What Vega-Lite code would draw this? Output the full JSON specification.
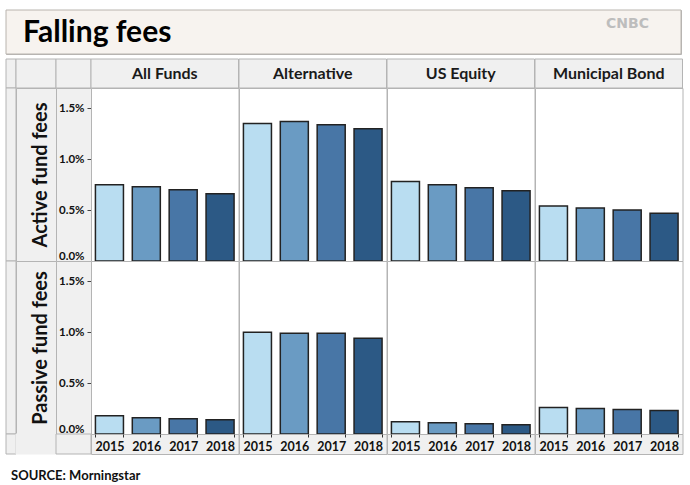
{
  "$schema": "https://vega.github.io/schema/vega-lite/v6.json",
  "padding": {"left": 5, "top": 9, "right": 5, "bottom": 2},
  "background": "white",
  "config": {
    "font": "Lato",
    "view": {"fill": "#f0f0f0", "stroke": "#b4b4b4"},
    "concat": {"spacing": 0},
    "facet": {"spacing": 0},
    "axis": {"labelFont": "Lato", "titleFont": "Lato"}
  },
  "title": {"text": "SOURCE: Morningstar", "orient": "bottom", "anchor": "start", "frame": "bounds", "offset": 25, "baseline": "alphabetic", "dx": 6, "fontSize": 13, "fontWeight": "bold", "color": "#111", "font": "Lato"},
  "datasets": {
    "fees": [
      {"kind": "Active", "cat": "All Funds", "year": "2015", "fee": 0.0075},
      {"kind": "Active", "cat": "All Funds", "year": "2016", "fee": 0.0073},
      {"kind": "Active", "cat": "All Funds", "year": "2017", "fee": 0.0070},
      {"kind": "Active", "cat": "All Funds", "year": "2018", "fee": 0.0066},
      {"kind": "Active", "cat": "Alternative", "year": "2015", "fee": 0.0135},
      {"kind": "Active", "cat": "Alternative", "year": "2016", "fee": 0.0137},
      {"kind": "Active", "cat": "Alternative", "year": "2017", "fee": 0.0134},
      {"kind": "Active", "cat": "Alternative", "year": "2018", "fee": 0.0130},
      {"kind": "Active", "cat": "US Equity", "year": "2015", "fee": 0.0078},
      {"kind": "Active", "cat": "US Equity", "year": "2016", "fee": 0.0075},
      {"kind": "Active", "cat": "US Equity", "year": "2017", "fee": 0.0072},
      {"kind": "Active", "cat": "US Equity", "year": "2018", "fee": 0.0069},
      {"kind": "Active", "cat": "Municipal Bond", "year": "2015", "fee": 0.0054},
      {"kind": "Active", "cat": "Municipal Bond", "year": "2016", "fee": 0.0052},
      {"kind": "Active", "cat": "Municipal Bond", "year": "2017", "fee": 0.0050},
      {"kind": "Active", "cat": "Municipal Bond", "year": "2018", "fee": 0.0047},
      {"kind": "Passive", "cat": "All Funds", "year": "2015", "fee": 0.0018},
      {"kind": "Passive", "cat": "All Funds", "year": "2016", "fee": 0.0016},
      {"kind": "Passive", "cat": "All Funds", "year": "2017", "fee": 0.0015},
      {"kind": "Passive", "cat": "All Funds", "year": "2018", "fee": 0.0014},
      {"kind": "Passive", "cat": "Alternative", "year": "2015", "fee": 0.0100},
      {"kind": "Passive", "cat": "Alternative", "year": "2016", "fee": 0.0099},
      {"kind": "Passive", "cat": "Alternative", "year": "2017", "fee": 0.0099},
      {"kind": "Passive", "cat": "Alternative", "year": "2018", "fee": 0.0094},
      {"kind": "Passive", "cat": "US Equity", "year": "2015", "fee": 0.0012},
      {"kind": "Passive", "cat": "US Equity", "year": "2016", "fee": 0.0011},
      {"kind": "Passive", "cat": "US Equity", "year": "2017", "fee": 0.0010},
      {"kind": "Passive", "cat": "US Equity", "year": "2018", "fee": 0.0009},
      {"kind": "Passive", "cat": "Municipal Bond", "year": "2015", "fee": 0.0026},
      {"kind": "Passive", "cat": "Municipal Bond", "year": "2016", "fee": 0.0025},
      {"kind": "Passive", "cat": "Municipal Bond", "year": "2017", "fee": 0.0024},
      {"kind": "Passive", "cat": "Municipal Bond", "year": "2018", "fee": 0.0023}
    ]
  },
  "spacing": 3,
  "vconcat": [
    {
      "width": 675, "height": 44,
      "data": {"values": [{"title": "Falling fees", "logo": "CNBC"}]},
      "layer": [
        {"mark": {"type": "rect", "fill": "#f7f3ef", "stroke": "#b9b4ae", "strokeWidth": 1}, "encoding": {}},
        {"mark": {"type": "text", "font": "Lato", "fontWeight": "bold", "fontSize": 30, "color": "#000", "align": "left", "baseline": "alphabetic"},
         "encoding": {"text": {"field": "title"}, "x": {"value": 17}, "y": {"value": 32}}},
        {"mark": {"type": "text", "font": "DejaVu Sans", "fontWeight": "bold", "fontSize": 14, "color": "#bdbdbd", "align": "right", "baseline": "middle"},
         "encoding": {"text": {"field": "logo"}, "x": {"value": 643}, "y": {"value": 14}}}
      ]
    },
    {
      "columns": 4,
      "spacing": 0,
      "bounds": "flush",
      "concat": [
        {"width": 10, "height": 29, "data": {"values": [{}]}, "mark": {"type": "rect", "fill": "#f0f0f0", "stroke": "#b4b4b4"}, "encoding": {}},
        {"width": 40, "height": 29, "data": {"values": [{}]}, "mark": {"type": "rect", "fill": "#f0f0f0", "stroke": "#b4b4b4"}, "encoding": {}},
        {"width": 35, "height": 29, "data": {"values": [{}]}, "mark": {"type": "rect", "fill": "#f0f0f0", "stroke": "#b4b4b4"}, "encoding": {}},
        {
          "data": {"name": "fees"},
          "transform": [{"filter": "datum.kind === 'Active' && datum.year === '2015'"}],
          "spacing": 0,
          "bounds": "flush",
          "facet": {"column": {"field": "cat", "type": "nominal", "header": null, "sort": ["All Funds", "Alternative", "US Equity", "Municipal Bond"]}},
          "spec": {
            "width": 147.5, "height": 29,
            "layer": [
              {"mark": {"type": "rect", "fill": "#f0f0f0", "stroke": "#b4b4b4"}, "encoding": {}},
              {"mark": {"type": "text", "fontSize": 16, "fontWeight": "bold", "color": "#1a1a1a", "font": "Lato"},
               "encoding": {"text": {"field": "cat"}}}
            ]
          }
        },
        {"width": 10, "height": 173, "data": {"values": [{}]}, "mark": {"type": "rect", "fill": "#f0f0f0", "stroke": "#b4b4b4"}, "encoding": {}},
        {
          "width": 40, "height": 173,
          "data": {"name": "fees"},
          "transform": [{"filter": "datum.kind === 'Active'"}],
          "mark": {"type": "point", "opacity": 0},
          "encoding": {"y": {"field": "fee", "type": "quantitative", "scale": {"domain": [0, 0.017], "nice": false},
            "axis": {"orient": "left", "offset": -40, "labels": false, "ticks": false, "domain": false, "grid": false, "title": "Active fund fees", "titleFontSize": 20, "titleFontWeight": "bold", "titleColor": "#111", "titlePadding": 10, "titleBaseline": "alphabetic"}}}
        },
        {
          "width": 35, "height": 173,
          "data": {"name": "fees"},
          "transform": [{"filter": "datum.kind === 'Active'"}],
          "mark": {"type": "point", "opacity": 0},
          "encoding": {"y": {"field": "fee", "type": "quantitative", "scale": {"domain": [0, 0.017], "nice": false},
            "axis": {"orient": "left", "offset": -35, "values": [0, 0.005, 0.01, 0.015], "format": ".1%", "labelFontSize": 11.5, "labelFontWeight": "bold", "labelColor": "#111", "tickSize": 4, "tickColor": "#444", "domain": false, "grid": false, "title": null, "labelFlush": true, "labelPadding": 3}}}
        },
        {
          "data": {"name": "fees"},
          "transform": [{"filter": "datum.kind === 'Active'"}],
          "spacing": 0,
          "bounds": "flush",
          "facet": {"column": {"field": "cat", "type": "nominal", "header": null, "sort": ["All Funds", "Alternative", "US Equity", "Municipal Bond"]}},
          "spec": {
            "width": 147.5, "height": 173,
            "view": {"fill": "white", "stroke": "#b4b4b4"},
            "mark": {"type": "bar", "stroke": "#222", "strokeWidth": 1.5},
            "encoding": {
              "x": {"field": "year", "type": "ordinal", "axis": null, "scale": {"type": "band", "paddingInner": 0.24}},
              "y": {"field": "fee", "type": "quantitative", "axis": null, "scale": {"domain": [0, 0.017], "nice": false}},
              "color": {"field": "year", "type": "ordinal", "legend": null, "scale": {"domain": ["2015", "2016", "2017", "2018"], "range": ["#b9ddf1", "#6a9bc3", "#4876a6", "#2c5985"]}}
            }
          }
        },
        {"width": 10, "height": 173, "data": {"values": [{}]}, "mark": {"type": "rect", "fill": "#f0f0f0", "stroke": "#b4b4b4"}, "encoding": {}},
        {
          "width": 40, "height": 173,
          "data": {"name": "fees"},
          "transform": [{"filter": "datum.kind === 'Passive'"}],
          "mark": {"type": "point", "opacity": 0},
          "encoding": {"y": {"field": "fee", "type": "quantitative", "scale": {"domain": [0, 0.017], "nice": false},
            "axis": {"orient": "left", "offset": -40, "labels": false, "ticks": false, "domain": false, "grid": false, "title": "Passive fund fees", "titleFontSize": 20, "titleFontWeight": "bold", "titleColor": "#111", "titlePadding": 10, "titleBaseline": "alphabetic"}}}
        },
        {
          "width": 35, "height": 173,
          "data": {"name": "fees"},
          "transform": [{"filter": "datum.kind === 'Passive'"}],
          "mark": {"type": "point", "opacity": 0},
          "encoding": {"y": {"field": "fee", "type": "quantitative", "scale": {"domain": [0, 0.017], "nice": false},
            "axis": {"orient": "left", "offset": -35, "values": [0, 0.005, 0.01, 0.015], "format": ".1%", "labelFontSize": 11.5, "labelFontWeight": "bold", "labelColor": "#111", "tickSize": 4, "tickColor": "#444", "domain": false, "grid": false, "title": null, "labelFlush": true, "labelPadding": 3}}}
        },
        {
          "data": {"name": "fees"},
          "transform": [{"filter": "datum.kind === 'Passive'"}],
          "spacing": 0,
          "bounds": "flush",
          "facet": {"column": {"field": "cat", "type": "nominal", "header": null, "sort": ["All Funds", "Alternative", "US Equity", "Municipal Bond"]}},
          "spec": {
            "width": 147.5, "height": 173,
            "view": {"fill": "white", "stroke": "#b4b4b4"},
            "mark": {"type": "bar", "stroke": "#222", "strokeWidth": 1.5},
            "encoding": {
              "x": {"field": "year", "type": "ordinal", "axis": null, "scale": {"type": "band", "paddingInner": 0.24}},
              "y": {"field": "fee", "type": "quantitative", "axis": null, "scale": {"domain": [0, 0.017], "nice": false}},
              "color": {"field": "year", "type": "ordinal", "legend": null, "scale": {"domain": ["2015", "2016", "2017", "2018"], "range": ["#b9ddf1", "#6a9bc3", "#4876a6", "#2c5985"]}}
            }
          }
        },
        {"width": 10, "height": 20, "data": {"values": [{}]}, "mark": {"type": "rect", "fill": "#f0f0f0", "stroke": "#b4b4b4"}, "encoding": {}},
        {"width": 40, "height": 20, "data": {"values": [{}]}, "mark": {"type": "rect", "fill": "#f0f0f0", "stroke": "#f0f0f0"}, "encoding": {}},
        {"width": 35, "height": 20, "data": {"values": [{}]}, "mark": {"type": "rect", "fill": "#f0f0f0", "stroke": "#b4b4b4"}, "encoding": {}},
        {
          "data": {"name": "fees"},
          "transform": [{"filter": "datum.kind === 'Active'"}],
          "spacing": 0,
          "bounds": "flush",
          "facet": {"column": {"field": "cat", "type": "nominal", "header": null, "sort": ["All Funds", "Alternative", "US Equity", "Municipal Bond"]}},
          "resolve": {"scale": {"x": "independent"}},
          "spec": {
            "width": 147.5, "height": 20,
            "mark": {"type": "bar", "opacity": 0},
            "encoding": {
              "x": {"field": "year", "type": "ordinal", "scale": {"type": "band", "paddingInner": 0.24},
                "axis": {"orient": "bottom", "offset": -20, "tickBand": "extent", "tickSize": 3, "tickColor": "#333", "labelFontSize": 12.5, "labelFontWeight": "bold", "labelColor": "#111", "labelPadding": 3, "labelAngle": 0, "domain": false, "grid": false, "title": null}}
            }
          }
        }
      ]
    }
  ]
}
